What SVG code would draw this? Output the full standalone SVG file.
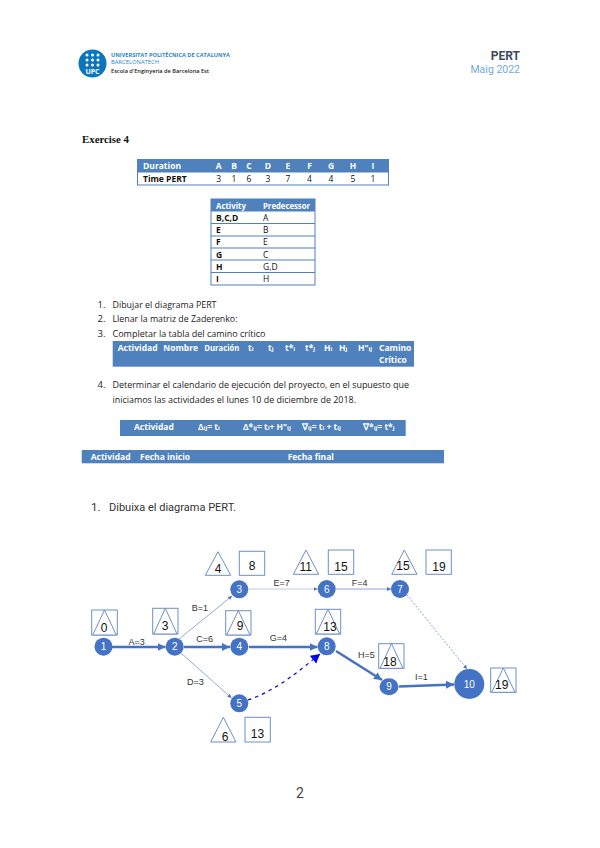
<svg xmlns="http://www.w3.org/2000/svg" width="600" height="848" viewBox="0 0 600 848">
<style>
text{font-family:"Open Sans","Liberation Sans",sans-serif;fill:#333}
.b{fill:#4f81bd}
.w{fill:#fff;font-weight:700;font-size:8.5px}
.k{fill:#111;font-size:8.5px}
.kb{fill:#111;font-size:8.5px;font-weight:700}
.li{font-size:9.5px;fill:#222;font-weight:500}
.r{fill:none;stroke:#4f81bd;stroke-width:1}
.nd{fill:#4472c4}
.nt{fill:#fff;font-size:10px;text-anchor:middle;font-family:"Liberation Sans",sans-serif}
.t{fill:#fff;stroke:#6f8fc6;stroke-width:1}
.h{fill:#111;font-size:12px;text-anchor:middle;font-family:"Liberation Sans",sans-serif}
.e{fill:none;stroke:#4472c4}
.lb{font-size:9px;text-anchor:middle;fill:#333;font-family:"Liberation Sans",sans-serif}
.s{font-size:6px}
</style>
<defs>
<marker id="a" markerUnits="userSpaceOnUse" markerWidth="10" markerHeight="10" refX="8" refY="4" orient="auto"><path d="M0 0L8 4L0 8Z" fill="#4472c4"/></marker>
<marker id="as" markerUnits="userSpaceOnUse" markerWidth="6" markerHeight="6" refX="4" refY="2" orient="auto"><path d="M0 0L4 2L0 4Z" fill="#4472c4"/></marker>
<marker id="ab" markerUnits="userSpaceOnUse" markerWidth="12" markerHeight="12" refX="9" refY="5" orient="auto"><path d="M0 0L9 5L0 10Z" fill="#0000e6"/></marker>
</defs>
<rect width="600" height="848" fill="#fff"/>

<g id="logo">
<circle cx="92.5" cy="63.5" r="14" fill="#0a77bd"/>
<g fill="#fff">
<circle cx="87" cy="55" r="1.5"/><circle cx="92.5" cy="55" r="1.5"/><circle cx="98" cy="55" r="1.5"/>
<circle cx="87" cy="60" r="1.5"/><circle cx="92.5" cy="60" r="1.5"/><circle cx="98" cy="60" r="1.5"/>
<circle cx="87" cy="65" r="1.5"/><circle cx="92.5" cy="65" r="1.5"/><circle cx="98" cy="65" r="1.5"/>
</g>
<text x="92.5" y="73.5" text-anchor="middle" font-size="7" font-weight="700" style="fill:#fff">UPC</text>
<text x="111" y="57" font-size="5.5" font-weight="700" textLength="119" lengthAdjust="spacingAndGlyphs" style="fill:#2a86c8">UNIVERSITAT POLITÈCNICA DE CATALUNYA</text>
<text x="111" y="63.5" font-size="5" textLength="48" lengthAdjust="spacingAndGlyphs" style="fill:#2a86c8">BARCELONATECH</text>
<text x="111" y="73" font-size="5.5" font-weight="600" textLength="98" lengthAdjust="spacingAndGlyphs" style="fill:#222">Escola d'Enginyeria de Barcelona Est</text>
</g>
<text x="520" y="60" text-anchor="end" font-size="12" font-weight="700" style="fill:#3f4c60;font-family:Roboto,sans-serif">PERT</text>
<text x="520" y="73" text-anchor="end" font-size="10.5" style="fill:#6fabdc;font-family:Roboto,sans-serif">Maig 2022</text>
<text x="82" y="142.5" font-size="10.5" font-weight="700" textLength="47" lengthAdjust="spacingAndGlyphs" style="fill:#111;font-family:'Liberation Serif',serif">Exercise 4</text>

<g id="table-duration">
<rect class="b" x="137.5" y="159.5" width="251" height="13"/>
<rect class="r" x="137.5" y="159.5" width="251" height="25.5" stroke-width="1.5"/>
<text class="w" x="143" y="169">Duration</text>
<g text-anchor="middle">
<text class="w" x="218.7" y="169">A</text><text class="w" x="234" y="169">B</text><text class="w" x="249" y="169">C</text><text class="w" x="268" y="169">D</text><text class="w" x="288" y="169">E</text><text class="w" x="309.5" y="169">F</text><text class="w" x="331" y="169">G</text><text class="w" x="353" y="169">H</text><text class="w" x="373" y="169">I</text>
</g>
<text class="kb" x="143" y="181.5">Time PERT</text>
<g text-anchor="middle">
<text class="k" x="218.7" y="181.5">3</text><text class="k" x="234" y="181.5">1</text><text class="k" x="249" y="181.5">6</text><text class="k" x="268" y="181.5">3</text><text class="k" x="288" y="181.5">7</text><text class="k" x="309.5" y="181.5">4</text><text class="k" x="331" y="181.5">4</text><text class="k" x="353" y="181.5">5</text><text class="k" x="373" y="181.5">1</text>
</g>
</g>

<g id="table-predecessor">
<rect class="b" x="211" y="199" width="104" height="12.5"/>
<rect class="r" x="211" y="199" width="104" height="86" stroke-width="1.5"/>
<path class="r" d="M211 223.500H315M211 236H315M211 248H315M211 260H315M211 272.500H315"/>
<text class="w" x="216" y="208.500" textLength="30" lengthAdjust="spacingAndGlyphs">Activity</text><text class="w" x="263" y="208.500" textLength="47" lengthAdjust="spacingAndGlyphs">Predecessor</text>
<text class="kb" x="216" y="220.500">B,C,D</text><text class="k" x="263" y="220.500">A</text>
<text class="kb" x="216" y="233">E</text><text class="k" x="263" y="233">B</text>
<text class="kb" x="216" y="245">F</text><text class="k" x="263" y="245">E</text>
<text class="kb" x="216" y="257.500">G</text><text class="k" x="263" y="257.500">C</text>
<text class="kb" x="216" y="269.500">H</text><text class="k" x="263" y="269.500">G,D</text>
<text class="kb" x="216" y="282">I</text><text class="k" x="263" y="282">H</text>
</g>

<g id="list-es">
<text class="li" x="97.500" y="307.500">1.</text><text class="li" x="112.500" y="307.500" textLength="104" lengthAdjust="spacingAndGlyphs">Dibujar el diagrama PERT</text>
<text class="li" x="97.500" y="322">2.</text><text class="li" x="112.500" y="322" textLength="125" lengthAdjust="spacingAndGlyphs">Llenar la matriz de Zaderenko:</text>
<text class="li" x="97.500" y="337">3.</text><text class="li" x="112.500" y="337" textLength="153" lengthAdjust="spacingAndGlyphs">Completar la tabla del camino crítico</text>
<text class="li" x="97.500" y="388">4.</text><text class="li" x="112.500" y="388" textLength="296.500" lengthAdjust="spacingAndGlyphs">Determinar el calendario de ejecución del proyecto, en el supuesto que</text>
<text class="li" x="112.500" y="403" textLength="243.500" lengthAdjust="spacingAndGlyphs">iniciamos las actividades el lunes 10 de diciembre de 2018.</text>
</g>

<g id="table-critical">
<rect class="b" x="112.700" y="341" width="301.300" height="25.700"/>
<text class="w" x="117.700" y="351">Actividad</text><text class="w" x="163.300" y="351">Nombre</text><text class="w" x="204.300" y="351" textLength="35" lengthAdjust="spacingAndGlyphs">Duración</text>
<text class="w" x="248" y="351">t<tspan class="s">i</tspan></text><text class="w" x="268" y="351">t<tspan class="s">j</tspan></text>
<text class="w" x="285" y="351">t*<tspan class="s">i</tspan></text><text class="w" x="305" y="351">t*<tspan class="s">j</tspan></text>
<text class="w" x="324" y="351">H<tspan class="s">i</tspan></text><text class="w" x="339" y="351">H<tspan class="s">j</tspan></text><text class="w" x="358" y="351">H"<tspan class="s">ij</tspan></text>
<text class="w" x="379" y="351">Camino</text><text class="w" x="379" y="362.500">Crítico</text>
</g>

<g id="table-calendar">
<rect class="b" x="120" y="420" width="285.700" height="16"/>
<text class="w" x="134" y="430">Actividad</text>
<text class="w" x="198" y="430">Δ<tspan class="s">ij</tspan>= t<tspan class="s">i</tspan></text>
<text class="w" x="243" y="430">Δ*<tspan class="s">ij</tspan>= t<tspan class="s">i</tspan>+ H"<tspan class="s">ij</tspan></text>
<text class="w" x="302" y="430">∇<tspan class="s">ij</tspan>= t<tspan class="s">i</tspan> + t<tspan class="s">ij</tspan></text>
<text class="w" x="363" y="430">∇*<tspan class="s">ij</tspan>= t*<tspan class="s">j</tspan></text>
</g>

<g id="table-dates">
<rect class="b" x="81.700" y="450" width="362.300" height="13.300"/>
<text class="w" x="90.700" y="460">Actividad</text><text class="w" x="140" y="460">Fecha inicio</text><text class="w" x="287.700" y="460">Fecha final</text>
</g>

<text x="91" y="511" font-size="11.500" style="font-family:Roboto,sans-serif">1.</text>
<text x="109" y="511" font-size="11.500" textLength="127" lengthAdjust="spacingAndGlyphs" style="font-family:Roboto,sans-serif">Dibuixa el diagrama PERT.</text>

<g id="connectors">
<path class="e" stroke-width="2.500" marker-end="url(#a)" d="M112 647H165.500"/>
<path class="e" stroke-width=".8" stroke-opacity=".75" marker-end="url(#as)" d="M179 639L232 596"/>
<path class="e" stroke-width="2.500" marker-end="url(#a)" d="M184 647H230"/>
<path class="e" stroke-width=".8" stroke-opacity=".75" marker-end="url(#as)" d="M181 653L231.500 698"/>
<path class="e" stroke-width=".8" stroke-opacity=".45" marker-end="url(#as)" d="M249 589H317.500"/>
<path class="e" stroke-width=".8" stroke-opacity=".8" marker-end="url(#as)" d="M336 589H391"/>
<path class="e" stroke-width=".8" stroke-opacity=".8" stroke-dasharray="2 1.500" marker-end="url(#as)" d="M407 595L467 669"/>
<path class="e" stroke-width="2.500" marker-end="url(#a)" d="M249 647H317.500"/>
<path class="e" stroke-width="2.500" marker-end="url(#a)" d="M336 651L382 680"/>
<path class="e" stroke-width="2.500" marker-end="url(#a)" d="M399 686.500L454 684.500"/>
<path fill="none" stroke="#0000e6" stroke-width="1.200" stroke-dasharray="3.500 4" marker-end="url(#ab)" d="M248 700C275 691 298 672 320 654"/>
<text class="lb" x="136.700" y="645">A=3</text>
<text class="lb" x="200" y="610.500">B=1</text>
<text class="lb" x="204.700" y="642">C=6</text>
<text class="lb" x="195.300" y="684.500">D=3</text>
<text class="lb" x="281.700" y="586">E=7</text>
<text class="lb" x="359.700" y="585.500">F=4</text>
<text class="lb" x="278.300" y="640.500">G=4</text>
<text class="lb" x="366.300" y="657.500">H=5</text>
<text class="lb" x="421.300" y="679.500">I=1</text>
</g>

<g id="node-1"><circle class="nd" cx="103.500" cy="646.700" r="9"/><text class="nt" x="103.500" y="650.200">1</text>
<rect class="t" x="91.700" y="610" width="25.600" height="25"/><path class="t" d="M104.500 610L92.700 635H116.300Z"/><text class="h" x="104" y="632" font-size="10">0</text></g>
<g id="node-2"><circle class="nd" cx="174.700" cy="646.700" r="9"/><text class="nt" x="174.700" y="650.200">2</text>
<rect class="t" x="152.700" y="608.300" width="25.300" height="25.700"/><path class="t" d="M165.300 608.300L153.700 634H177Z"/><text class="h" x="165" y="630" font-size="10">3</text></g>
<g id="node-3"><circle class="nd" cx="239.300" cy="589.300" r="9"/><text class="nt" x="239.300" y="592.800">3</text>
<path class="t" d="M218 551.700L205.300 575.300H230.700Z"/><text class="h" x="218" y="572.500">4</text>
<rect class="t" x="239.300" y="551.300" width="25.400" height="24"/><text class="h" x="252" y="569.500">8</text></g>
<g id="node-4"><circle class="nd" cx="239.300" cy="646.700" r="9"/><text class="nt" x="239.300" y="650.200">4</text>
<rect class="t" x="225.700" y="610.700" width="25.300" height="24.300"/><path class="t" d="M238.300 610.700L226.700 635H250Z"/><text class="h" x="240" y="630">9</text></g>
<g id="node-5"><circle class="nd" cx="239.300" cy="703.300" r="9"/><text class="nt" x="239.300" y="706.800">5</text>
<path class="t" d="M223.300 717.300L210.700 742H236Z"/><text class="h" x="225" y="741">6</text>
<rect class="t" x="245" y="717.300" width="25.300" height="24.700"/><text class="h" x="257.500" y="737.500" font-size="14">13</text></g>
<g id="node-6"><circle class="nd" cx="326.700" cy="589" r="9"/><text class="nt" x="326.700" y="592.500">6</text>
<path class="t" d="M306 550L293.300 574.300H318.700Z"/><text class="h" x="305.700" y="571" font-size="11">11</text>
<rect class="t" x="328.300" y="550" width="25.400" height="24.300"/><text class="h" x="341" y="570.500" font-size="16">15</text></g>
<g id="node-7"><circle class="nd" cx="400" cy="589" r="9"/><text class="nt" x="400" y="592.500">7</text>
<path class="t" d="M404.300 550L391.700 574.300H417Z"/><text class="h" x="403" y="570" font-size="8.500">15</text>
<rect class="t" x="426" y="550" width="25.300" height="24.300"/><text class="h" x="439" y="571" font-size="14">19</text></g>
<g id="node-8"><circle class="nd" cx="326.700" cy="646.300" r="9"/><text class="nt" x="326.700" y="649.800">8</text>
<rect class="t" x="315.300" y="609.300" width="25.400" height="24.700"/><path class="t" d="M328 609.300L316.300 634H339.700Z"/><text class="h" x="330" y="630.500">13</text></g>
<g id="node-9"><ellipse class="nd" cx="389" cy="686.700" rx="9.500" ry="8.500"/><text class="nt" x="389" y="690.200">9</text>
<rect class="t" x="378.700" y="643.700" width="25.300" height="24.600"/><path class="t" d="M391.500 643.700L380 668.300H403Z"/><text class="h" x="390" y="666">18</text></g>
<g id="node-10"><circle class="nd" cx="469.300" cy="684" r="15"/><text class="nt" x="469.300" y="688" font-size="10.500">10</text>
<rect class="t" x="490.700" y="668" width="25.300" height="24.300"/><path class="t" d="M503.300 668L491.700 692.300H515Z"/><text class="h" x="501.700" y="689" font-size="11">19</text></g>

<text x="300" y="798" text-anchor="middle" font-size="14" style="fill:#444;font-family:Roboto,sans-serif">2</text>
</svg>
